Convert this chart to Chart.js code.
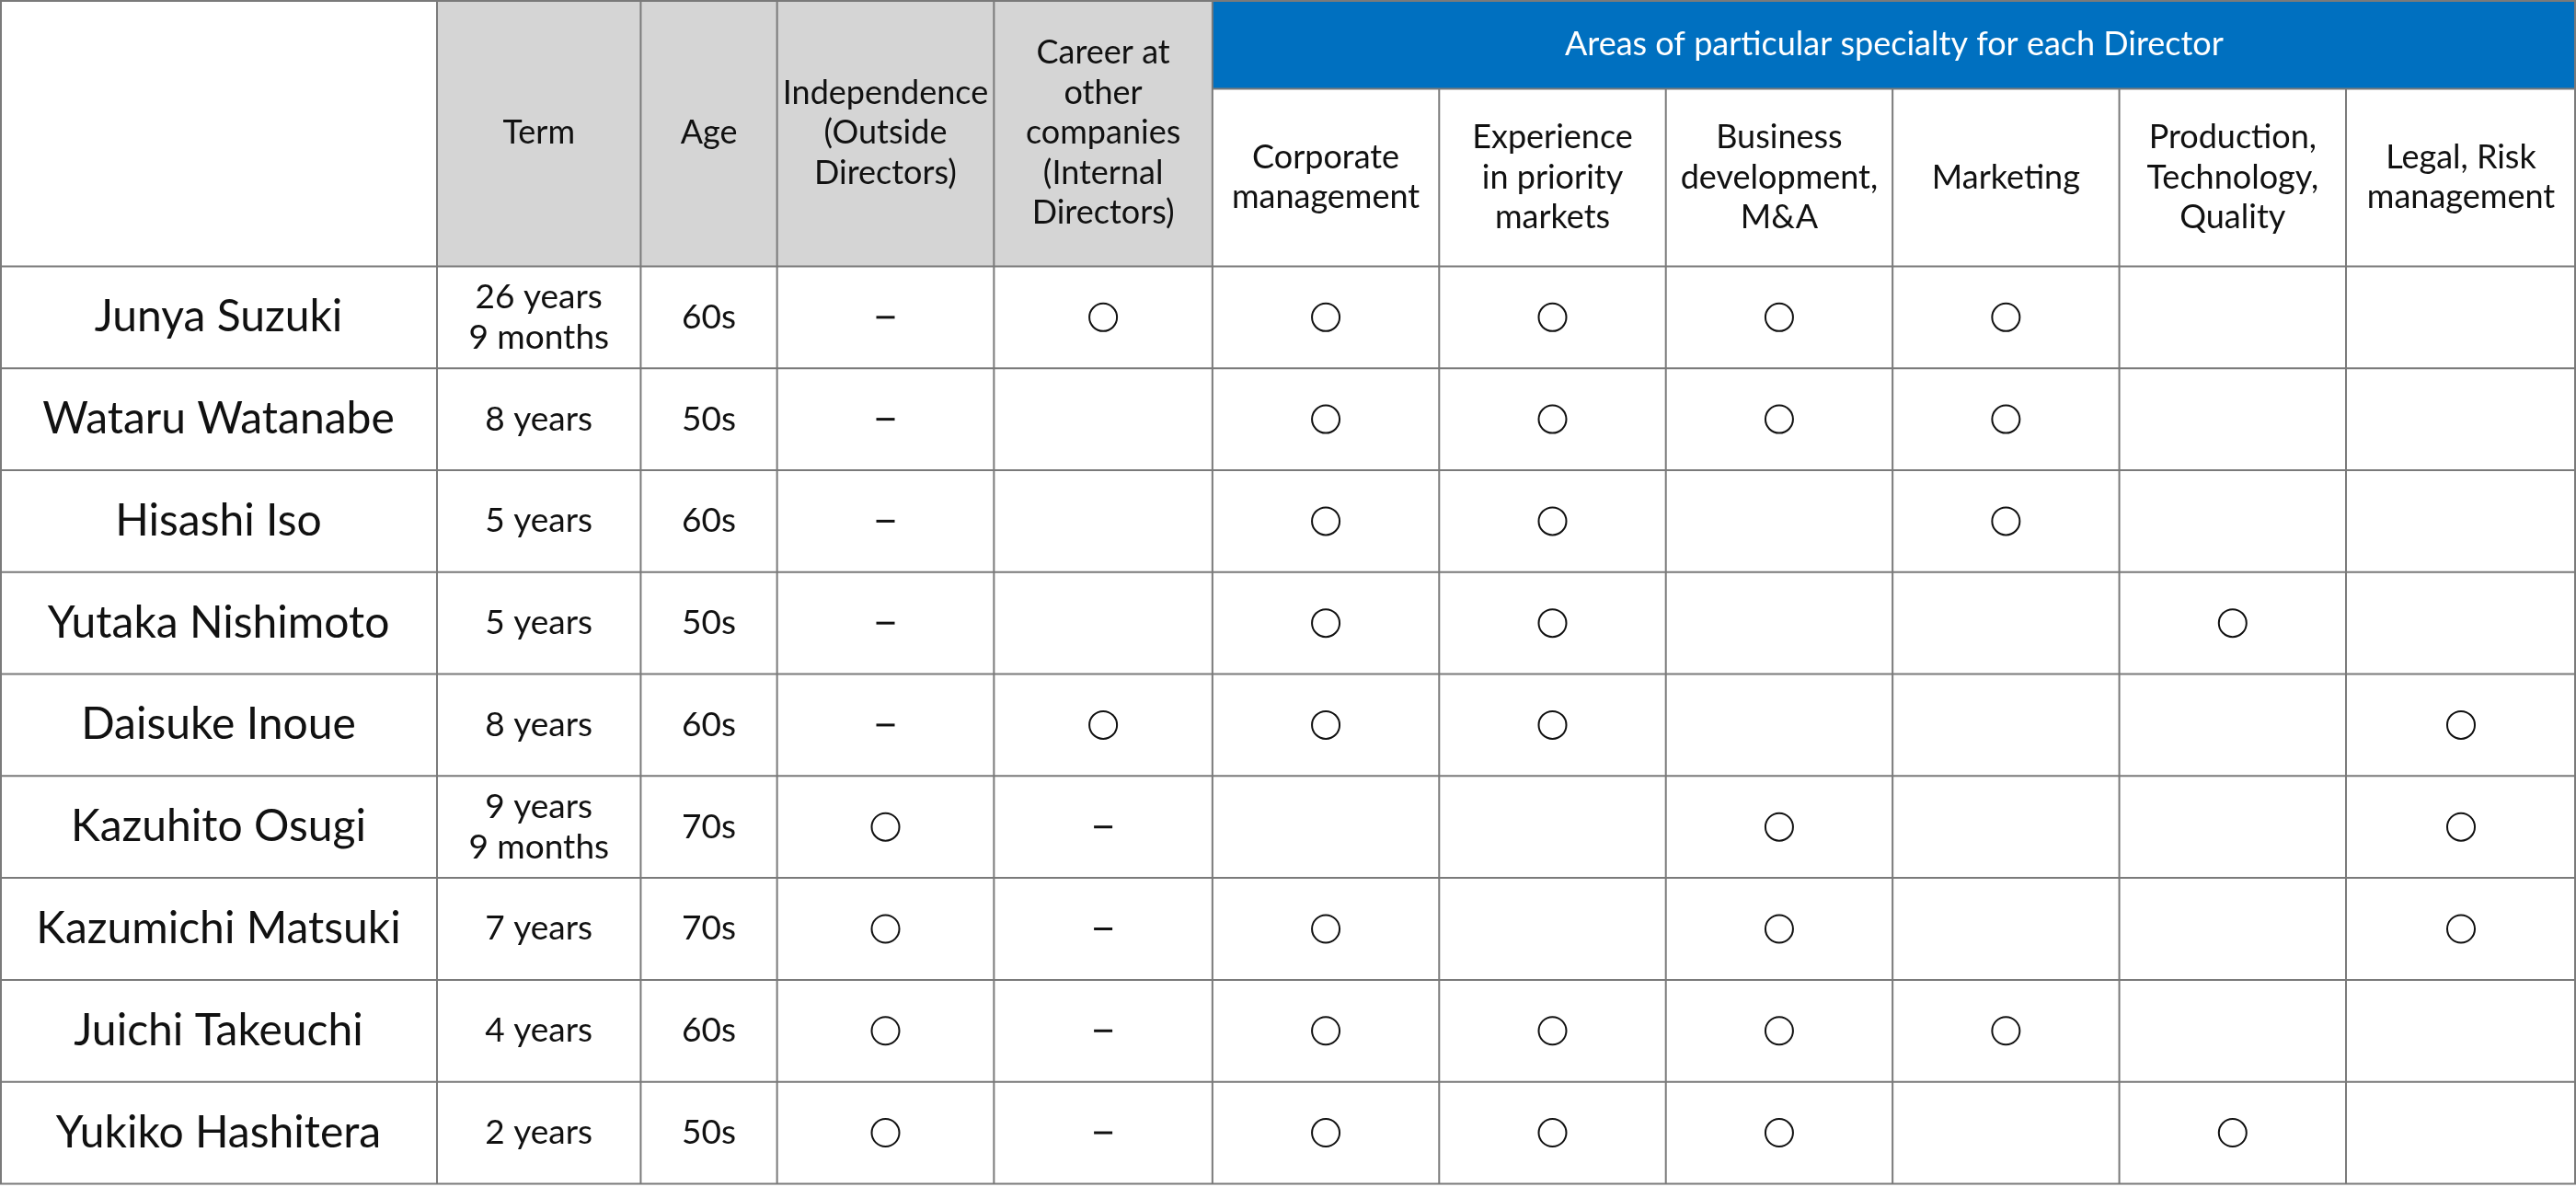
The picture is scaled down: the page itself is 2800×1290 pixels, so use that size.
<!DOCTYPE html>
<html><head><meta charset="utf-8">
<script src="https://cdn.jsdelivr.net/npm/chart.js@4"></script>
<style>html,body{margin:0;padding:0;background:#fff}canvas{display:block}</style>
</head><body>
<canvas id="c" width="2800" height="1290"></canvas>
<script>
// --- TABLE LAYOUT (reference units) ---
const colEdges = [0, 266, 390, 473, 605, 738, 876, 1014, 1152, 1290, 1428, 1568];
const headTop = 54, headBottom = 162, rowH = 62;
const headers = ["", "Term", "Age", "Independence\n(Outside\nDirectors)", "Career at\nother\ncompanies\n(Internal\nDirectors)",
  "Corporate\nmanagement", "Experience\nin priority\nmarkets", "Business\ndevelopment,\nM&A", "Marketing", "Production,\nTechnology,\nQuality", "Legal, Risk\nmanagement"];
const bandTitle = "Areas of particular specialty for each Director";

// --- DATA ---
const directors = [
  { name: "Junya Suzuki", term: "26 years\n9 months", age: "60s", marks: ["-", "o", "o", "o", "o", "o", "", ""] },
  { name: "Wataru Watanabe", term: "8 years", age: "50s", marks: ["-", "", "o", "o", "o", "o", "", ""] },
  { name: "Hisashi Iso", term: "5 years", age: "60s", marks: ["-", "", "o", "o", "", "o", "", ""] },
  { name: "Yutaka Nishimoto", term: "5 years", age: "50s", marks: ["-", "", "o", "o", "", "", "o", ""] },
  { name: "Daisuke Inoue", term: "8 years", age: "60s", marks: ["-", "o", "o", "o", "", "", "", "o"] },
  { name: "Kazuhito Osugi", term: "9 years\n9 months", age: "70s", marks: ["o", "-", "", "", "o", "", "", "o"] },
  { name: "Kazumichi Matsuki", term: "7 years", age: "70s", marks: ["o", "-", "o", "", "o", "", "", "o"] },
  { name: "Juichi Takeuchi", term: "4 years", age: "60s", marks: ["o", "-", "o", "o", "o", "o", "", ""] },
  { name: "Yukiko Hashitera", term: "2 years", age: "50s", marks: ["o", "-", "o", "o", "o", "", "o", ""] }
];

const colMid = i => (colEdges[i] + colEdges[i + 1]) / 2;
const rowMid = r => headBottom + rowH * r + rowH / 2;
const pts = sym => directors.flatMap((d, r) => d.marks.map((m, k) => m === sym ? { x: colMid(k + 3), y: rowMid(r) } : null).filter(Boolean));

// --- TABLE PLUGIN ---
const tablePlugin = {
  id: "table",
  beforeDatasetsDraw(chart) {
    const { ctx, scales: { x, y } } = chart;
    const X = v => x.getPixelForValue(v), Y = v => y.getPixelForValue(v);
    const lines = (txt, cx, cy, size, color, lh) => {
      const ls = txt.split("\n");
      ctx.font = `${size}px Lato`; ctx.fillStyle = color;
      ctx.textAlign = "center"; ctx.textBaseline = "middle";
      ls.forEach((l, i) => ctx.fillText(l, cx, cy + (i - (ls.length - 1) / 2) * lh));
    };
    ctx.save();
    ctx.fillStyle = "#d5d5d5";
    ctx.fillRect(X(colEdges[1]), Y(0), X(colEdges[5]) - X(colEdges[1]), Y(headBottom) - Y(0));
    ctx.fillStyle = "#0070c0";
    ctx.fillRect(X(colEdges[5]), Y(0), X(colEdges[11]) - X(colEdges[5]), Y(headTop) - Y(0));
    ctx.strokeStyle = "#7a7a7a"; ctx.lineWidth = 2;
    const bottom = headBottom + rowH * directors.length;
    colEdges.forEach((c, i) => {
      const top = (i > 5 && i < 11) ? headTop : 0;
      const xx = Math.min(Math.max(X(c), 1), 2799);
      ctx.beginPath(); ctx.moveTo(xx, Y(top)); ctx.lineTo(xx, Y(bottom)); ctx.stroke();
    });
    ctx.beginPath(); ctx.moveTo(X(0), Y(0) + 1); ctx.lineTo(X(1568), Y(0) + 1); ctx.stroke();
    ctx.beginPath(); ctx.moveTo(X(colEdges[5]), Y(headTop)); ctx.lineTo(X(1568), Y(headTop)); ctx.stroke();
    for (let r = 0; r <= directors.length; r++) {
      const yy = Math.min(Y(headBottom + rowH * r), 1289);
      ctx.beginPath(); ctx.moveTo(X(0), yy); ctx.lineTo(X(1568), yy); ctx.stroke();
    }
    lines(bandTitle, X(colMid(5) + (colEdges[11] - colEdges[6]) / 2), Y(headTop / 2), 36, "#fff", 44);
    headers.forEach((h, i) => {
      if (!h) return;
      const cy = i < 5 ? headBottom / 2 : (headTop + headBottom) / 2;
      lines(h, X(colMid(i)), Y(cy), 36, "#111", 43.5);
    });
    directors.forEach((d, r) => {
      lines(d.name, X(colMid(0)), Y(rowMid(r)), 48, "#111", 50);
      lines(d.term, X(colMid(1)), Y(rowMid(r)), 37, "#111", 44);
      lines(d.age, X(colMid(2)), Y(rowMid(r)), 37, "#111", 44);
    });
    ctx.restore();
  }
};

new Chart(document.getElementById("c"), {
  type: "scatter",
  data: { datasets: [
    { label: "yes", data: pts("o"), pointStyle: "circle", pointRadius: 15, borderColor: "#111", borderWidth: 2, backgroundColor: "rgba(0,0,0,0)" },
    { label: "n/a", data: pts("-"), pointStyle: "line", pointRadius: 10, borderColor: "#111", borderWidth: 3 }
  ] },
  options: {
    responsive: false, animation: false, events: [],
    layout: { padding: 0, autoPadding: false },
    plugins: { legend: { display: false }, tooltip: { enabled: false } },
    scales: {
      x: { type: "linear", min: 0, max: 1568, display: false },
      y: { type: "linear", min: 0, max: 722, reverse: true, display: false }
    }
  },
  plugins: [tablePlugin]
});
</script>
</body></html>
